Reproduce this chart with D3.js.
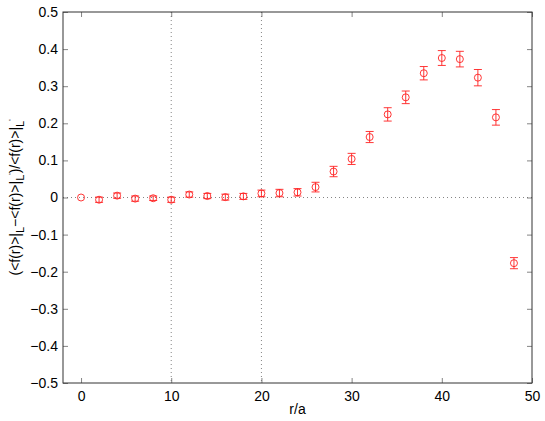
<!DOCTYPE html>
<html><head><meta charset="utf-8">
<script src="https://cdn.jsdelivr.net/npm/d3@7"></script>
<style>body{margin:0;background:#fff}svg{display:block}text{font-family:"Liberation Sans",Arial,sans-serif}</style>
</head><body>
<script>
const rValues = [0,2,4,6,8,10,12,14,16,18,20,22,24,26,28,30,32,34,36,38,40,42,44,46,48];
const ratio = [0,-0.006,0.005,-0.003,-0.002,-0.006,0.008,0.004,0.001,0.003,0.011,0.012,0.014,0.028,0.070,0.104,0.163,0.224,0.270,0.335,0.376,0.373,0.323,0.216,-0.177];
const errs = [0,0.007,0.007,0.007,0.006,0.007,0.007,0.007,0.008,0.008,0.009,0.010,0.010,0.013,0.014,0.015,0.015,0.018,0.017,0.018,0.020,0.021,0.022,0.021,0.015];
const xTicks = [0,10,20,30,40,50];
const yTicks = [-0.5,-0.4,-0.3,-0.2,-0.1,0,0.1,0.2,0.3,0.4,0.5];
const vLines = [10,20];

const W=545,H=421;
const m={l:63,t:12,r:532,b:383};
const svg=d3.select("body").append("svg").attr("width",W).attr("height",H);
const x=d3.scaleLinear().domain([-2,50]).range([m.l,m.r]);
const y=d3.scaleLinear().domain([-0.5,0.5]).range([m.b,m.t]);

// dotted reference lines
svg.append("line").attr("x1",x(-2)).attr("x2",x(50)).attr("y1",y(0)).attr("y2",y(0))
  .attr("stroke","#666").attr("stroke-width",0.8).attr("stroke-dasharray","1,3");
svg.selectAll(".vl").data(vLines).enter().append("line")
  .attr("x1",d=>x(d)).attr("x2",d=>x(d)).attr("y1",m.t).attr("y2",m.b)
  .attr("stroke","#666").attr("stroke-width",0.8).attr("stroke-dasharray","1,3");

// axes
const tickLen=5;
const fmtY=d=>d===0?"0":d3.format(".1f")(d).replace("-","\u2212");
const gx=svg.append("g").attr("transform",`translate(0,${m.b})`)
  .call(d3.axisBottom(x).tickValues(xTicks).tickSize(-tickLen).tickPadding(8).tickFormat(d3.format("d")));
const gxt=svg.append("g").attr("transform",`translate(0,${m.t})`)
  .call(d3.axisTop(x).tickValues(xTicks).tickSize(-tickLen).tickFormat(""));
const gy=svg.append("g").attr("transform",`translate(${m.l},0)`)
  .call(d3.axisLeft(y).tickValues(yTicks).tickSize(-tickLen).tickPadding(5).tickFormat(fmtY));
const gyr=svg.append("g").attr("transform",`translate(${m.r},0)`)
  .call(d3.axisRight(y).tickValues(yTicks).tickSize(-tickLen).tickFormat(""));
[gx,gxt,gy,gyr].forEach(g=>{
  g.select(".domain").remove();
  g.selectAll("line").attr("stroke","#666").attr("stroke-width",0.8);
  g.selectAll("text").attr("fill","#000").style("font-size","14px").style("font-family","'Liberation Sans',Arial,sans-serif");
});
// box
svg.append("rect").attr("x",m.l).attr("y",m.t).attr("width",m.r-m.l).attr("height",m.b-m.t)
  .attr("fill","none").attr("stroke","#333").attr("stroke-width",1);

// error bars
const data=rValues.map((r,i)=>({r,v:ratio[i],e:errs[i]}));
const red="#ff2020";
const g=svg.append("g").attr("stroke",red).attr("fill","none").attr("stroke-width",0.9);
const cap=4;
data.filter(d=>d.e>0).forEach(d=>{
  g.append("line").attr("x1",x(d.r)).attr("x2",x(d.r)).attr("y1",y(d.v-d.e)).attr("y2",y(d.v+d.e));
  g.append("line").attr("x1",x(d.r)-cap).attr("x2",x(d.r)+cap).attr("y1",y(d.v-d.e)).attr("y2",y(d.v-d.e));
  g.append("line").attr("x1",x(d.r)-cap).attr("x2",x(d.r)+cap).attr("y1",y(d.v+d.e)).attr("y2",y(d.v+d.e));
});
g.selectAll("circle").data(data).enter().append("circle")
  .attr("cx",d=>x(d.r)).attr("cy",d=>y(d.v)).attr("r",3.5);

// labels
svg.append("text").attr("x",x(24)).attr("y",414).attr("text-anchor","middle")
  .style("font-size","14px").text("r/a");
const yl=svg.append("text").attr("transform",`translate(20,${(m.t+m.b)/2}) rotate(-90)`)
  .attr("text-anchor","middle").style("font-size","14px");
yl.append("tspan").text("(<f(r)>|");
yl.append("tspan").attr("dy",4).style("font-size","11px").text("L");
yl.append("tspan").attr("dy",-4).text("\u2212<f(r)>|");
yl.append("tspan").attr("dy",4).style("font-size","11px").text("L");
yl.append("tspan").attr("dy",-10).style("font-size","7px").text("'");
yl.append("tspan").attr("dy",6).text(")/<f(r)>|");
yl.append("tspan").attr("dy",4).style("font-size","11px").text("L");
yl.append("tspan").attr("dy",-10).style("font-size","7px").text("'");
</script>
</body></html>
